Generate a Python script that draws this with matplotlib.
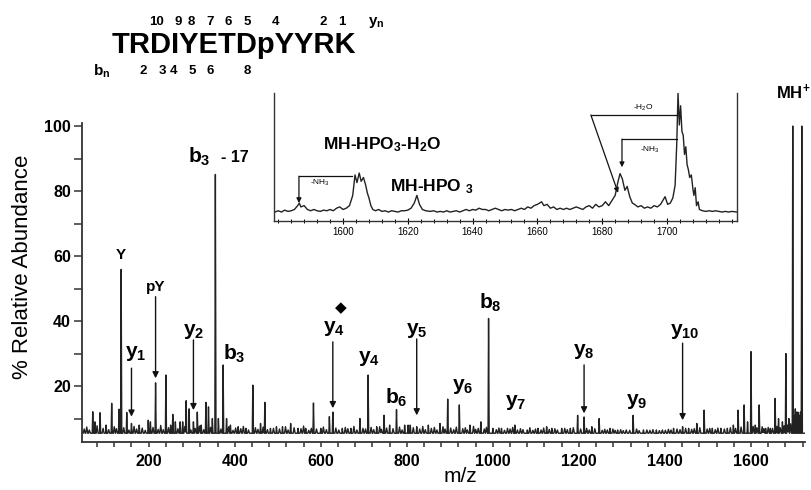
import numpy as np
import matplotlib
matplotlib.use("Agg")
import matplotlib.pyplot as plt
from matplotlib.ticker import MultipleLocator

plt.rcParams["font.family"] = ["Liberation Sans", "DejaVu Sans"]
plt.rcParams["mathtext.fontset"] = "custom"
plt.rcParams["mathtext.rm"] = "Liberation Sans"
plt.rcParams["mathtext.bf"] = "Liberation Sans:bold"
plt.rcParams["mathtext.it"] = "Liberation Sans:italic"

# ---- main spectrum: peak m/z and % relative abundance
peak_mz = [70, 75, 87, 101, 114, 131, 136, 149, 160, 178, 199, 204, 216, 240,
           251, 256, 262, 273, 279, 287, 294, 304, 313, 322, 333, 339, 348,
           355, 362, 373, 381, 390, 408, 426, 442, 460, 470, 483, 497, 511,
           530, 547, 565, 583, 600, 620, 628, 650, 670, 691, 710, 730, 747,
           760, 776, 795, 803, 808, 823, 850, 877, 895, 922, 947, 972, 990,
           1000, 1020, 1051, 1080, 1105, 1125, 1137, 1160, 1180, 1197, 1212,
           1230, 1247, 1272, 1290, 1326, 1350, 1380, 1420, 1441, 1455, 1474,
           1491, 1510, 1530, 1545, 1559, 1570, 1584, 1592, 1600, 1610, 1619,
           1634, 1645, 1656, 1664, 1673, 1681, 1688, 1697, 1700, 1703, 1706,
           1709, 1712, 1715, 1718]
peak_int = [12.1, 9, 11.8, 8, 14.7, 12.9, 55.9, 11.9, 8.5, 8, 9.5, 9, 21, 23.4,
            8, 11.3, 9, 9, 9, 15.5, 13, 9, 12, 8, 15, 13.6, 10,
            85.1, 10, 26.5, 10, 8, 7.5, 7, 20.3, 8.5, 15, 7, 7.5, 7.5,
            8.5, 7, 7, 14.8, 7, 10.6, 12, 7, 7, 10, 23.4, 7.5, 11,
            8, 12.8, 8, 8, 8, 7.5, 8, 8.5, 16, 14.2, 8, 9, 40.8,
            7, 7, 8, 6.5, 7, 7.5, 7, 7, 7, 11, 10.5,
            7.5, 10, 7, 6.5, 11, 6.5, 6.5, 7, 7.5, 7, 8.5,
            12.6, 7, 7, 7, 8, 12.6, 14.2, 9, 30.6, 8, 14.2,
            7, 7, 16.2, 10, 9, 30, 10, 100, 11, 13, 12,
            12, 11, 12, 100]
# low-level baseline noise peaks
grass_mz = [50, 56, 62, 80, 94, 107, 120, 125, 142, 154, 166, 172, 185, 192,
            210, 222, 228, 234, 246, 268, 284, 298, 308, 318, 328, 344, 368,
            386, 396, 402, 414, 420, 432, 448, 454, 466, 476, 490, 504, 518,
            524, 538, 554, 560, 572, 578, 590, 606, 613, 635, 642, 657, 663,
            677, 684, 698, 704, 717, 723, 737, 741, 753, 768, 783, 789, 815,
            830, 837, 843, 857, 864, 870, 884, 889, 902, 909, 915, 930, 936,
            941, 955, 960, 966, 980, 985, 1008, 1014, 1027, 1034, 1040, 1046,
            1057, 1064, 1070, 1086, 1093, 1099, 1112, 1118, 1131, 1144, 1150,
            1167, 1173, 1187, 1204, 1218, 1224, 1237, 1254, 1260, 1266, 1279,
            1284, 1297, 1303, 1310, 1318, 1334, 1340, 1358, 1365, 1372, 1387,
            1394, 1401, 1408, 1414, 1428, 1435, 1448, 1462, 1468, 1481, 1498,
            1504, 1517, 1523, 1538, 1552, 1564, 1577, 1605, 1614, 1626, 1630,
            1640, 1650, 1660, 1668, 1677, 1685, 1692]
grass_int = [6.8, 7.4, 6.5, 7.8, 7.0, 6.6, 7.5, 6.9, 7.2, 6.5, 7.6, 6.8, 7.1, 6.4,
             7.3, 6.7, 7.9, 6.6, 7.2, 6.9, 7.6, 6.5, 7.0, 7.7, 6.6, 7.3, 6.8,
             7.5, 6.4, 7.1, 6.9, 7.6, 6.5, 7.2, 6.7, 7.4, 6.6, 7.0, 6.8, 7.5,
             6.5, 7.2, 6.9, 7.7, 6.4, 7.0, 6.8, 7.4, 6.6, 7.1, 6.5, 7.3, 6.9,
             7.6, 6.5, 7.0, 6.8, 7.3, 6.6, 7.5, 6.7, 7.1, 6.9, 7.4, 6.5, 7.2,
             6.8, 7.6, 6.6, 7.0, 7.3, 6.5, 7.5, 6.8, 7.1, 6.6, 7.4, 6.9, 7.2,
             6.5, 7.6, 6.7, 7.0, 6.8, 7.3, 6.6, 7.1, 6.4, 7.0, 6.8, 7.3,
             6.5, 6.9, 6.6, 7.2, 6.4, 6.8, 6.5, 7.1, 6.7, 6.9, 6.5,
             7.0, 6.6, 7.2, 6.8, 7.0, 6.5, 6.9, 6.4, 6.7, 6.5, 6.8,
             6.4, 6.6, 6.3, 6.5, 6.4, 6.8, 6.3, 6.5, 6.4, 6.6, 6.3,
             6.5, 6.4, 6.7, 6.5, 6.8, 6.6, 7.0, 6.7, 6.9, 7.2, 6.8,
             7.0, 6.6, 7.1, 6.8, 7.2, 7.0, 7.4, 7.6, 7.2, 7.5, 6.9,
             7.3, 7.0, 7.6, 7.2, 7.8, 8.0, 8.4]
baseline = 5.5

# ---- inset trace (m/z, relative intensity in inset units)
inset_mz = [1579, 1580, 1581, 1582, 1583, 1584, 1585, 1586, 1586.5, 1587, 1588,
            1589, 1590, 1591, 1592, 1593, 1594, 1595, 1596, 1597, 1598, 1599,
            1600, 1601, 1602, 1603, 1603.7, 1604.3, 1605, 1605.6, 1606.3, 1607,
            1607.5, 1608, 1608.6, 1609.2, 1610, 1611, 1612, 1613, 1614, 1615,
            1616, 1617, 1618, 1619, 1620, 1621, 1622, 1622.8, 1623.6, 1624.5,
            1625.5, 1627, 1628, 1629, 1630, 1631, 1632, 1633, 1634, 1635, 1636,
            1637, 1638, 1639, 1640, 1641, 1642, 1643, 1644, 1645, 1646, 1647,
            1648, 1649, 1650, 1651, 1652, 1653, 1654, 1655, 1656, 1657, 1658,
            1659, 1660, 1661.3, 1662, 1663, 1664, 1665, 1666, 1667, 1668, 1669,
            1670, 1671, 1672, 1673, 1674, 1675, 1676, 1677, 1678, 1679, 1680,
            1681, 1682, 1683, 1684, 1684.8, 1685.5, 1686.2, 1687, 1687.7,
            1688.5, 1689.3, 1690, 1691, 1692, 1693, 1694, 1695, 1696, 1697,
            1698, 1699.4, 1700.2, 1701, 1701.8, 1702.5, 1703, 1703.4, 1703.8,
            1704.2, 1704.6, 1705, 1705.4, 1705.8, 1706.2, 1706.6, 1707, 1707.5,
            1708, 1708.3, 1708.7, 1709.1, 1709.6, 1710, 1711, 1712, 1713, 1714,
            1715, 1716, 1717, 1718, 1719, 1720, 1721.6]
inset_int = [7, 8, 7, 8.5, 7.5, 8, 9, 12, 14, 11, 12,
             9, 8, 9, 8, 7.5, 8.5, 8, 9, 8, 10, 11,
             9, 10, 12, 20, 36, 30, 37.5, 31, 34, 28,
             22, 18, 12, 9, 8, 9, 7.5, 8, 7, 8,
             7.5, 7, 8, 8, 8.5, 10, 14, 20, 13, 9,
             8, 7.5, 8, 7, 7.5, 7, 8, 7, 7.5, 8, 7,
             8, 9, 8, 9, 8.5, 10, 9, 9, 8, 9, 10,
             9, 8, 9, 8.5, 9, 8, 9, 10, 9, 11, 10,
             12, 13, 15, 12, 13, 10, 11, 9, 10, 9, 10,
             9, 10, 11, 10, 9, 11, 12, 10, 13, 11, 12,
             15, 12, 16, 20, 30, 37, 33, 24, 27,
             19, 14, 13, 11, 12, 10, 11, 10, 12, 11,
             13, 19, 13, 14, 18, 28, 60, 100, 75,
             90, 70, 67, 52, 58, 44, 40, 34, 36,
             25, 20, 26, 12, 15, 9, 8, 7.5, 8, 7.5,
             8, 7.5, 7, 7.5, 7, 7.5, 7]

# ---- peak labels: text, m/z, height, font size
labels = [("Y", 136, 60.2, 11), ("pY", 217, 50.5, 11),
          (r"$\mathbf{y_1}$", 170, 30, 15), (r"$\mathbf{y_2}$", 305, 36.7, 15),
          (r"$\mathbf{b_3}$", 398, 30, 15), (r"$\mathbf{y_4}$", 631, 37.8, 15),
          (r"$\mathbf{y_4}$", 712, 28.6, 15), (r"$\mathbf{b_6}$", 775, 16.3, 15),
          (r"$\mathbf{y_5}$", 824, 37.2, 15), (r"$\mathbf{b_8}$", 995, 45.5, 15),
          (r"$\mathbf{y_6}$", 931, 19.8, 15), (r"$\mathbf{y_7}$", 1053, 14.8, 15),
          (r"$\mathbf{y_8}$", 1212, 30.6, 15), (r"$\mathbf{y_9}$", 1334, 15.2, 15),
          (r"$\mathbf{y_{10}}$", 1446, 36.7, 15), (r"MH$^\mathbf{+}$", 1697, 110.5, 12)]
# arrows: m/z, start height, tip height
arrows = [(160, 25.5, 10.6), (216, 47.5, 22.4), (304, 34.2, 12.6), (628, 33.6, 13.2),
          (823, 34.5, 11.0), (1212, 26.5, 11.6), (1441, 33.2, 9.5)]
diamond = (647, 44)

seq = "TRDIYETDpYYRK"
yn_nums = ["10", "9", "8", "7", "6", "5", "4", "2", "1"]
yn_x = [157, 178, 191, 210, 228, 247, 275, 323, 342]
bn_nums = ["2", "3", "4", "5", "6", "8"]
bn_x = [143, 162, 174, 192, 210, 247]

W, H = 811, 490
fig = plt.figure(figsize=(W / 100, H / 100), dpi=100)
ax = fig.add_axes([82 / W, 1 - 442 / H, 723 / W, (442 - 122.8) / H])

# profile trace: narrow triangular peaks on a flat baseline
grid = np.arange(45, 1725.5, 0.2)
trace = np.full_like(grid, baseline)
for m, h in zip(peak_mz, peak_int):
    trace = np.maximum(trace, h - (h - baseline) * np.abs(grid - m) / 1.2)
for m, h in zip(grass_mz, grass_int):
    trace = np.maximum(trace, h - (h - baseline) * np.abs(grid - m) / 2.2)
ax.plot(grid, trace, color="#222222", lw=1.0)

ax.set_xlim(45, 1725.5)
ax.set_ylim(2.8, 101)
ax.set_xticks(range(200, 1601, 200))
ax.xaxis.set_minor_locator(MultipleLocator(40))
ax.set_yticks([20, 40, 60, 80, 100])
ax.yaxis.set_minor_locator(MultipleLocator(10))
for s in ["top", "right"]:
    ax.spines[s].set_visible(False)
for s in ["left", "bottom"]:
    ax.spines[s].set_linewidth(1.3)
    ax.spines[s].set_color("#333333")
ax.tick_params(axis="x", which="both", length=3.6, width=1.1, color="#333333",
               labelsize=11.5, pad=5)
ax.tick_params(axis="y", which="both", length=5.5, width=1.1, color="#333333",
               labelsize=11.5, pad=2.5)
for lab in ax.get_xticklabels() + ax.get_yticklabels():
    lab.set_fontweight("bold")

for txt, m, v, fs in labels:
    ax.text(m, v, txt, ha="center", va="center", fontsize=fs, fontweight="bold",
            clip_on=False)
ax.text(292, 90.5, r"$\mathbf{b_3}$", ha="left", va="center", fontsize=15,
        fontweight="bold")
ax.text(368, 90.3, "- 17", ha="left", va="center", fontsize=11.5, fontweight="bold")
ax.text(diamond[0], diamond[1], "\u25C6", ha="center", va="center", fontsize=11,
        family="DejaVu Sans")
for m, v0, v1 in arrows:
    ax.annotate("", xy=(m, v1), xytext=(m, v0),
                arrowprops=dict(arrowstyle="-|>", color="#111111", lw=1.0,
                                mutation_scale=9, shrinkA=0, shrinkB=0))

# ---- inset
ins = fig.add_axes([274 / W, 1 - 221 / H, 463 / W, 128 / H])
ins.plot(inset_mz, inset_int, color="#222222", lw=1.0)
ins.set_xlim(1578.7, 1721.6)
ins.set_ylim(0, 100)
ins.set_xticks(range(1600, 1701, 20))
ins.xaxis.set_minor_locator(MultipleLocator(4))
ins.set_yticks([])
ins.spines["top"].set_visible(False)
for s in ["left", "right", "bottom"]:
    ins.spines[s].set_linewidth(1.0)
    ins.spines[s].set_color("#333333")
ins.tick_params(axis="x", which="major", direction="inout", length=5, width=0.8,
                labelsize=7, pad=2)
ins.tick_params(axis="x", which="minor", direction="inout", length=3, width=0.7)

ins.text(1593.8, 60, r"MH-HPO$_\mathbf{3}$-H$_\mathbf{2}$O", ha="left",
         va="center", fontsize=12.5, fontweight="bold")
ins.text(1614.5, 26.6, r"MH-HPO $_\mathbf{3}$", ha="left", va="center",
         fontsize=12.5, fontweight="bold")

ak = dict(arrowstyle="-|>", color="#111111", lw=0.9, mutation_scale=7,
          shrinkA=0, shrinkB=0)
# -NH3 (left)
ins.plot([1586.4, 1602.8], [35, 35], color="#111111", lw=0.9)
ins.annotate("", xy=(1586.4, 14), xytext=(1586.4, 35), arrowprops=ak)
ins.text(1593, 29.5, r"-NH$_3$", ha="center", va="center", fontsize=6)
# -H2O
ins.plot([1676.5, 1703], [82.8, 82.8], color="#111111", lw=0.9)
ins.annotate("", xy=(1684.9, 22), xytext=(1676.5, 82.8), arrowprops=ak)
ins.text(1692.6, 88.3, r"-H$_2$O", ha="center", va="center", fontsize=6)
# -NH3 (right)
ins.plot([1686.1, 1703], [64, 64], color="#111111", lw=0.9)
ins.annotate("", xy=(1686.1, 42), xytext=(1686.1, 64), arrowprops=ak)
ins.text(1694.8, 55.5, r"-NH$_3$", ha="center", va="center", fontsize=6)

# ---- axis titles
fig.text(23 / W, 1 - 267 / H, "% Relative Abundance", rotation=90, ha="center",
         va="center", fontsize=16)
fig.text(460 / W, 1 - 476 / H, "m/z", ha="center", va="center", fontsize=15)

# ---- sequence header
fig.text(112 / W, 1 - 53 / H, seq, ha="left", va="baseline", fontsize=21,
         fontweight="bold")
for n, x in zip(yn_nums, yn_x):
    fig.text(x / W, 1 - 22 / H, n, ha="center", va="center", fontsize=9.5,
             fontweight="bold")
for n, x in zip(bn_nums, bn_x):
    fig.text(x / W, 1 - 71 / H, n, ha="center", va="center", fontsize=9.5,
             fontweight="bold")
fig.text(376 / W, 1 - 22 / H, r"$\mathbf{y_n}$", ha="center", va="center",
         fontsize=11)
fig.text(102 / W, 1 - 71 / H, r"$\mathbf{b_n}$", ha="center", va="center",
         fontsize=11)

fig.savefig("out.png", dpi=100)
